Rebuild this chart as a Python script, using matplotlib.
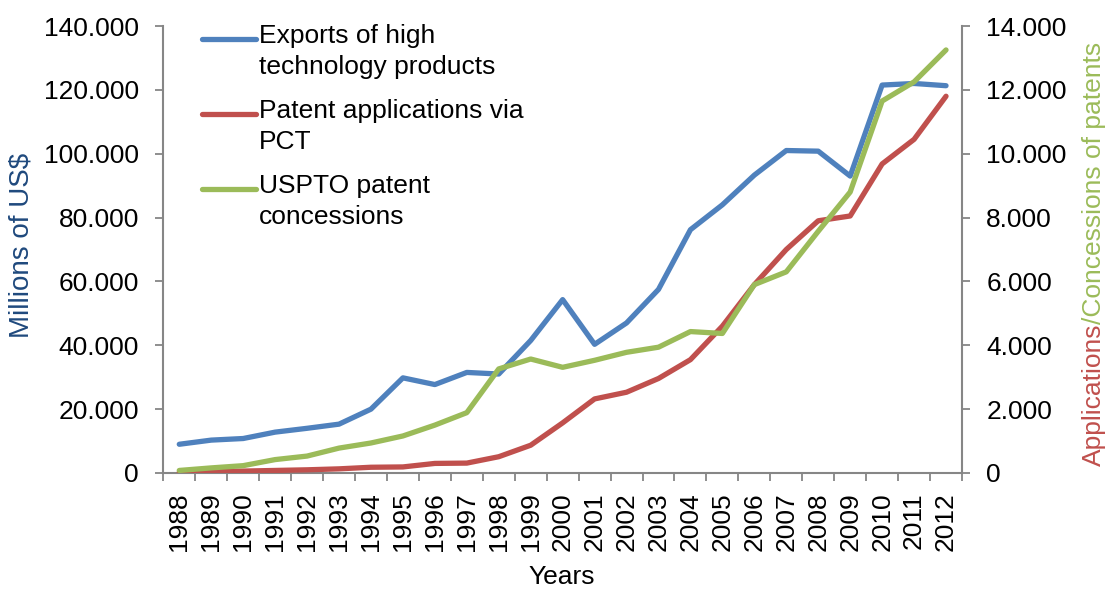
import matplotlib
matplotlib.use("Agg")
import matplotlib.pyplot as plt
from matplotlib.ticker import FuncFormatter, FixedLocator
from matplotlib.lines import Line2D

plt.rcParams['font.family'] = ['Liberation Sans', 'DejaVu Sans']

years = [str(y) for y in range(1988, 2013)]
exports = [9000, 10300, 10800, 12800, 14000, 15300, 20000, 29800, 27700, 31500,
           31000, 41500, 54300, 40300, 47000, 57500, 76200, 84000, 93300, 101000,
           100800, 93000, 121500, 122000, 121300]
pct = [20, 50, 60, 80, 100, 130, 180, 190, 300, 310,
       510, 870, 1570, 2320, 2530, 2960, 3550, 4600, 5900, 7000,
       7900, 8050, 9680, 10450, 11800]
uspto = [80, 160, 230, 420, 530, 780, 940, 1160, 1500, 1890,
         3260, 3570, 3310, 3530, 3780, 3940, 4430, 4370, 5900, 6300,
         7570, 8800, 11650, 12250, 13250]
series_labels = ["Exports of high\ntechnology products",
                 "Patent applications via\nPCT",
                 "USPTO patent\nconcessions"]
left_ticks = [0, 20000, 40000, 60000, 80000, 100000, 120000, 140000]
right_ticks = [0, 2000, 4000, 6000, 8000, 10000, 12000, 14000]

BLUE = '#4F81BD'
RED = '#C0504D'
GREEN = '#9BBB59'
GRAY = '#868686'
FS = 19

W, H = 1108, 589
fig = plt.figure(figsize=(W / 100, H / 100), dpi=100)
ax = fig.add_axes([163.3 / W, 1 - 473 / H, (962 - 163.3) / W, (473 - 26) / H])
ax2 = ax.twinx()

x = list(range(len(years)))
lw = 3.8
l1, = ax.plot(x, exports, color=BLUE, lw=lw, solid_capstyle='round', solid_joinstyle='round')
l2, = ax2.plot(x, pct, color=RED, lw=lw, solid_capstyle='round', solid_joinstyle='round')
l3, = ax2.plot(x, uspto, color=GREEN, lw=lw, solid_capstyle='round', solid_joinstyle='round')

ax.set_xlim(-0.5, len(years) - 0.5)
ax.set_ylim(0, 140000)
ax2.set_ylim(0, 14000)

fmt = FuncFormatter(lambda v, p: f"{int(round(v)):,}".replace(",", "."))
ax.yaxis.set_major_locator(FixedLocator(left_ticks))
ax2.yaxis.set_major_locator(FixedLocator(right_ticks))
ax.yaxis.set_major_formatter(fmt)
ax2.yaxis.set_major_formatter(fmt)

# category axis: ticks at boundaries, labels at centers
ax.set_xticks([i - 0.5 for i in range(len(years) + 1)])
ax.set_xticklabels([])
ax.set_xticks(x, minor=True)
ax.set_xticklabels(years, minor=True, rotation=90, fontsize=FS)
ax.tick_params(axis='x', which='major', length=6, width=1.3, color=GRAY, direction='out')
ax.tick_params(axis='x', which='minor', length=0, pad=14)

ax.tick_params(axis='y', length=5.5, width=1.3, color=GRAY, labelsize=FS, pad=12)
ax2.tick_params(axis='y', length=5.5, width=1.3, color=GRAY, labelsize=FS, pad=12)

for a in (ax, ax2):
    for s in a.spines.values():
        s.set_color(GRAY)
        s.set_linewidth(1.5)
    a.spines['top'].set_visible(False)
ax2.spines['left'].set_visible(False)
ax2.spines['bottom'].set_visible(False)
ax.spines['right'].set_visible(False)

# axis titles
fig.text(22 / W, 1 - 245 / H, "Millions of US$", rotation=90, color='#1F497D',
         fontsize=20, ha='center', va='center')
fig.text(562 / W, 1 - 577 / H, "Years", fontsize=FS, ha='center', va='center')

t_red = fig.text(1094 / W, 1 - 466 / H, "Applications", rotation=90, color=RED,
                 fontsize=FS, ha='left', va='center', rotation_mode='anchor')
fig.canvas.draw()
r = fig.canvas.get_renderer()
bb = t_red.get_window_extent(r)
fig.text(1094 / W, (1 - 466 / H) + bb.height / H, "/Concessions of patents", rotation=90,
         color=GREEN, fontsize=FS, ha='left', va='center', rotation_mode='anchor')

# legend (manual, handle aligned with first text line)
handle_y = [38.5, 114, 189]
for line, lab, yy in zip([l1, l2, l3], series_labels, handle_y):
    fig.add_artist(Line2D([202 / W, 256 / W], [1 - yy / H, 1 - yy / H],
                          color=line.get_color(), lw=lw, solid_capstyle='round',
                          transform=fig.transFigure))
    fig.text(259 / W, 1 - (yy - 15) / H, lab, fontsize=FS, ha='left', va='top',
             linespacing=1.38)

fig.savefig("out.png", dpi=100)
